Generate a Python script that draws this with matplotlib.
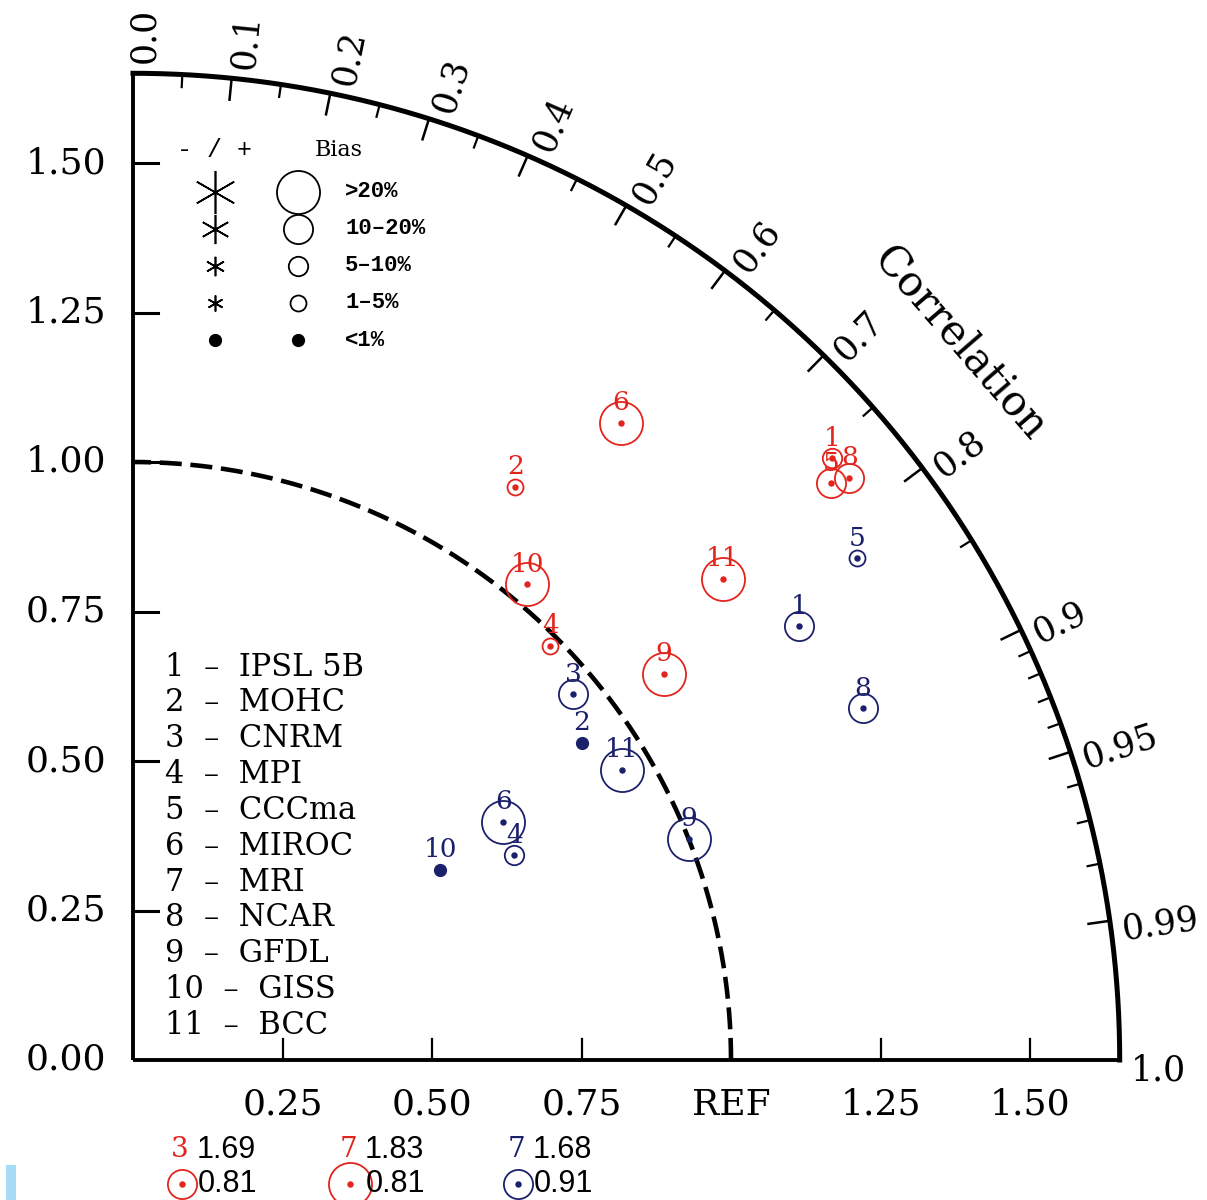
"""Taylor diagram of normalised std / correlation for 11 models, two seasons."""

import matplotlib

matplotlib.use("Agg")
import matplotlib.pyplot as plt
import numpy as np
from matplotlib.patches import Rectangle

models = ["IPSL 5B", "MOHC", "CNRM", "MPI", "CCCma", "MIROC",
          "MRI", "NCAR", "GFDL", "GISS", "BCC"]

# normalised standard deviation, correlation and bias class per model
# bias class: 0 <1%, 1 1-5%, 2 5-10%, 3 10-20%, 4 >20%
red_std = [1.543, 1.152, 1.69, 0.983, 1.514, 1.342, 1.83, 1.544, 1.098, 1.033, 1.273]
red_corr = [0.758, 0.555, 0.81, 0.710, 0.771, 0.608, 0.81, 0.776, 0.809, 0.638, 0.775]
red_bias = [2, 1, 3, 1, 3, 4, 4, 3, 4, 4, 4]

blue_std = [1.329, 0.919, 0.957, 0.724, 1.473, 0.736, 1.68, 1.355, 1.000, 0.604, 0.950]
blue_corr = [0.838, 0.817, 0.769, 0.881, 0.822, 0.841, 0.91, 0.901, 0.929, 0.850, 0.860]
blue_bias = [3, 0, 3, 2, 1, 4, 3, 3, 4, 0, 4]

bias_labels = ["<1%", "1–5%", "5–10%", "10–20%", ">20%"]

std_ticks = [0.25, 0.50, 0.75, 1.00, 1.25, 1.50]
std_ticklabels = ["0.25", "0.50", "0.75", "REF", "1.25", "1.50"]

corr_major = [0.1, 0.2, 0.3, 0.4, 0.5, 0.6, 0.7, 0.8, 0.9, 0.95, 0.99]
corr_minor = [0.05, 0.15, 0.25, 0.35, 0.45, 0.55, 0.65, 0.75, 0.85,
              0.91, 0.92, 0.93, 0.94, 0.96, 0.97, 0.98]
corr_labels = [0.0, 0.1, 0.2, 0.3, 0.4, 0.5, 0.6, 0.7, 0.8, 0.9, 0.95, 0.99, 1.0]

RED = "#e3241d"
NAVY = "#1b206b"
MONO = "Liberation Mono"
SERIF = "DejaVu Serif"
R_MAX = 1.65
MARKER_MS = [8.5, 11.5, 14.0, 21.0, 31.0]


def polar_xy(std, corr):
    theta = np.arccos(np.asarray(corr, dtype=float))
    std = np.asarray(std, dtype=float)
    return std * np.cos(theta), std * np.sin(theta)


def draw_marker(x, y, cls, color, shape="o"):
    if cls == 0:
        ax.plot(x, y, "o", ms=MARKER_MS[0], color=color, clip_on=False)
        return
    if shape == "o":
        ax.plot(x, y, "o", ms=MARKER_MS[cls], mfc="none", mec=color,
                mew=1.3, clip_on=False)
    else:
        ax.plot(x, y, marker=(6, 2, 0), ms=MARKER_MS[cls], color=color,
                mew=1.2, ls="none", clip_on=False)


fig = plt.figure(figsize=(12.07, 12.0), dpi=100)
ax = fig.add_axes([0, 0, 1, 1])
scale = 598.0
ax.set_xlim(-133 / scale, (1207 - 133) / scale)
ax.set_ylim(-140 / scale, 1060 / scale)
ax.axis("off")

# frame: two axes and the outer correlation arc
ax.plot([0, 0], [0, R_MAX], color="k", lw=2.8, solid_capstyle="butt")
ax.plot([0, R_MAX], [0, 0], color="k", lw=2.8, solid_capstyle="butt")
t = np.linspace(0, np.pi / 2, 400)
ax.plot(R_MAX * np.cos(t), R_MAX * np.sin(t), color="k", lw=3.6)

# reference arc
ax.plot(np.cos(t), np.sin(t), color="k", lw=3.3, ls=(0, (4.8, 1.9)))

# std ticks on both axes
tick_font = dict(family=SERIF, fontsize=26)
ax.text(-0.045, 0, "0.00", ha="right", va="center", **tick_font)
for v, lab in zip(std_ticks, std_ticklabels):
    ax.plot([0, 0.042], [v, v], color="k", lw=2.2)
    ax.text(-0.045, v, f"{v:.2f}", ha="right", va="center", **tick_font)
    ax.plot([v, v], [0, 0.035], color="k", lw=1.6)
    ax.text(v, -0.075, lab, ha="center", va="center", **tick_font)

# correlation ticks and labels
for c in corr_major:
    th = np.arccos(c)
    ax.plot([(R_MAX - 0.036) * np.cos(th), R_MAX * np.cos(th)],
            [(R_MAX - 0.036) * np.sin(th), R_MAX * np.sin(th)], color="k", lw=1.8)
for c in corr_minor:
    th = np.arccos(c)
    ax.plot([(R_MAX - 0.021) * np.cos(th), R_MAX * np.cos(th)],
            [(R_MAX - 0.021) * np.sin(th), R_MAX * np.sin(th)], color="k", lw=1.6)
r_lab, d_off = 1.668, 0.018
for c in corr_labels:
    th = np.arccos(c)
    lx = r_lab * np.cos(th) + d_off * np.sin(th)
    ly = r_lab * np.sin(th) - d_off * np.cos(th)
    txt = f"{c:.2f}" if c in (0.95, 0.99) else f"{c:.1f}"
    ax.text(lx, ly, txt, rotation=np.degrees(th), rotation_mode="anchor",
            ha="left", va="center", family=SERIF, fontsize=25)

th_lab = np.arccos(0.756)
ax.text(1.83 * np.cos(th_lab), 1.83 * np.sin(th_lab), "Correlation",
        rotation=np.degrees(th_lab) - 90, rotation_mode="anchor",
        ha="center", va="center", family=SERIF, fontsize=30)

# bias legend
ax.text(0.137, 1.522, "- / +", ha="center", va="center", family=MONO, fontsize=18)
ax.text(0.304, 1.522, "Bias", ha="left", va="center", family=SERIF, fontsize=16)
row_y = 1.452
for cls in range(4, -1, -1):
    draw_marker(0.137, row_y, cls, "k", shape="*")
    draw_marker(0.276, row_y, cls, "k", shape="o")
    ax.text(0.355, row_y, bias_labels[cls], ha="left", va="center",
            family=MONO, fontsize=16, weight="bold")
    row_y -= 0.062

# model list
for i, name in enumerate(models):
    ax.text(0.0535, 0.657 - i * 0.0599, f"{i + 1}  –  {name}", ha="left",
            va="center", family=SERIF, fontsize=22)

# model markers; values beyond the outer arc go to the bottom row
outside = []
for std, corr, bias, color in ((red_std, red_corr, red_bias, RED),
                               (blue_std, blue_corr, blue_bias, NAVY)):
    xs, ys = polar_xy(std, corr)
    for i in range(len(models)):
        if std[i] > R_MAX:
            outside.append((i + 1, std[i], corr[i], bias[i], color))
            continue
        draw_marker(xs[i], ys[i], bias[i], color)
        if bias[i] > 0:
            ax.plot(xs[i], ys[i], "o", ms=3.6, color=color)
        ax.annotate(str(i + 1), (xs[i], ys[i]), xytext=(0, 14.5),
                    textcoords="offset points", ha="center", va="center",
                    color=color, family=SERIF, fontsize=19)

slot_x = 0.0786
for num, std, corr, bias, color in outside:
    ax.text(slot_x, -0.150, str(num), ha="center", va="center", color=color,
            family=SERIF, fontsize=20)
    ax.text(slot_x + 0.027, -0.150, f"{std:.2f}", ha="left", va="center",
            family="Liberation Sans", fontsize=22)
    draw_marker(slot_x + 0.003, -0.208, bias, color)
    ax.plot(slot_x + 0.003, -0.208, "o", ms=3.6, color=color, clip_on=False)
    ax.text(slot_x + 0.029, -0.208, f"{corr:.2f}", ha="left", va="center",
            family="Liberation Sans", fontsize=22)
    slot_x += 0.2815

fig.add_artist(Rectangle((6 / 1207, 0), 10 / 1207, 35 / 1200,
                         transform=fig.transFigure, color="#a6dcf5", lw=0))

fig.savefig("out.png", dpi=100)
